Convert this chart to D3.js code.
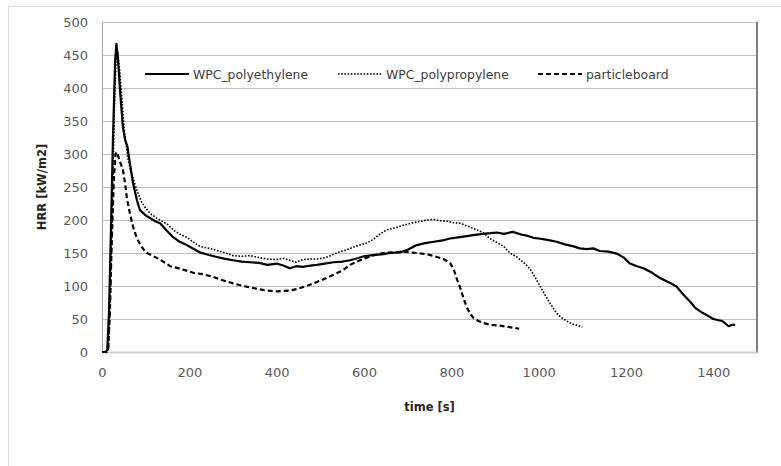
<!DOCTYPE html>
<html>
<head>
<meta charset="utf-8">
<script src="https://cdn.jsdelivr.net/npm/d3@7"></script>
<style>
  body { margin: 0; background: #fff; }
  svg { display: block; font-family: "DejaVu Sans", sans-serif; }
</style>
</head>
<body>
<script>
// data: time [s] and HRR [kW/m2]
const peTime = [0, 8, 12, 16, 20, 25, 30, 33, 37, 42, 48, 53, 58, 63, 71, 80, 87, 100, 110, 122, 133, 148, 163, 178, 194, 210, 224, 245, 263, 282, 300, 320, 339, 360, 378, 400, 415, 430, 445, 460, 478, 492, 510, 530, 550, 568, 585, 600, 621, 640, 660, 682, 700, 721, 740, 760, 780, 797, 820, 850, 872, 890, 904, 920, 941, 960, 975, 988, 1000, 1020, 1041, 1060, 1080, 1094, 1110, 1125, 1140, 1160, 1179, 1195, 1209, 1225, 1240, 1260, 1278, 1300, 1316, 1330, 1347, 1360, 1376, 1390, 1400, 1420, 1435, 1442, 1450];
const peHrr = [0, 0, 3, 60, 170, 320, 440, 467, 440, 390, 340, 321, 312, 290, 256, 230, 215, 207, 203, 198, 195, 184, 174, 167, 162, 156, 151, 147, 144, 141, 139, 137, 136, 135, 132, 134, 131, 127, 130, 129, 131, 132, 134, 136, 137, 139, 142, 145, 147, 148, 150, 151, 155, 162, 165, 167, 169, 172, 174, 177, 179, 180, 181, 179, 182, 178, 176, 173, 172, 170, 167, 163, 160, 157, 156, 157, 153, 152, 149, 143, 134, 130, 127, 120, 112, 105, 99, 88, 76, 66, 59, 54, 50, 47, 39, 41, 41];

const ppTime = [0, 10, 15, 19, 23, 28, 32, 36, 40, 46, 52, 60, 70, 80, 90, 100, 110, 125, 140, 149, 165, 180, 194, 210, 224, 245, 263, 282, 300, 320, 339, 360, 378, 400, 415, 430, 445, 460, 478, 492, 505, 520, 530, 545, 561, 580, 606, 620, 635, 652, 670, 690, 713, 730, 745, 759, 775, 790, 805, 820, 840, 855, 873, 888, 904, 920, 934, 950, 965, 980, 992, 1003, 1015, 1026, 1040, 1050, 1064, 1075, 1090, 1100];
const ppHrr = [0, 0, 5, 80, 200, 360, 440, 455, 430, 380, 330, 290, 265, 245, 228, 218, 210, 203, 197, 194, 184, 178, 174, 166, 160, 157, 154, 150, 146, 145, 146, 143, 141, 140, 142, 139, 136, 140, 141, 141, 142, 145, 148, 152, 155, 160, 165, 170, 178, 185, 188, 192, 196, 198, 200, 201, 199, 198, 196, 195, 190, 186, 181, 172, 166, 160, 150, 144, 136, 126, 113, 100, 86, 74, 60, 53, 47, 43, 40, 38];

const pbTime = [0, 10, 14, 18, 22, 27, 31, 34, 38, 43, 48, 53, 57, 64, 71, 80, 90, 100, 115, 130, 145, 156, 174, 190, 209, 230, 254, 270, 285, 300, 323, 346, 360, 378, 400, 430, 450, 476, 492, 510, 530, 552, 568, 584, 606, 625, 644, 667, 690, 705, 721, 745, 767, 782, 797, 805, 813, 820, 828, 836, 843, 850, 862, 873, 890, 911, 930, 950, 955];
const pbHrr = [0, 0, 3, 60, 160, 260, 300, 303, 295, 285, 276, 255, 233, 210, 190, 172, 160, 151, 146, 141, 135, 130, 127, 124, 120, 118, 114, 110, 107, 104, 100, 97, 95, 93, 92, 93, 96, 102, 106, 111, 117, 124, 132, 137, 143, 147, 150, 151, 152, 151, 150, 148, 144, 141, 135, 126, 110, 98, 81, 67, 58, 52, 47, 44, 41, 40, 38, 36, 35];

const seriesNames = ["WPC_polyethylene", "WPC_polypropylene", "particleboard"];
const xTicks = [0, 200, 400, 600, 800, 1000, 1200, 1400];
const yTicks = [0, 50, 100, 150, 200, 250, 300, 350, 400, 450, 500];

const w = 781, h = 466;
const padL = 102, padR = 757, padT = 22, padB = 352;

const x = d3.scaleLinear().domain([0, 1500]).range([padL, padR]);
const y = d3.scaleLinear().domain([0, 500]).range([padB, padT]);

const svg = d3.select("body").append("svg")
  .attr("width", w)
  .attr("height", h);

// outer chart frame (only top and left edges visible)
svg.append("path")
  .attr("d", "M8.5," + h + "V6.5H" + w)
  .attr("fill", "none")
  .attr("stroke", "#d9d9d9");

// gridlines
svg.append("g")
  .selectAll("line")
  .data(yTicks.filter(d => d > 0))
  .enter()
  .append("line")
  .attr("x1", padL).attr("x2", padR)
  .attr("y1", d => Math.round(y(d)) + 0.5)
  .attr("y2", d => Math.round(y(d)) + 0.5)
  .attr("stroke", "#bfbfbf");

// plot area border
svg.append("line")
  .attr("x1", padL + 0.5).attr("x2", padL + 0.5)
  .attr("y1", padT).attr("y2", padB)
  .attr("stroke", "#a6a6a6");
svg.append("line")
  .attr("x1", padR).attr("x2", padR)
  .attr("y1", padT).attr("y2", padB + 1)
  .attr("stroke", "#7f7f7f")
  .attr("stroke-width", 2);

// x axis
const xAxis = d3.axisBottom(x).tickValues(xTicks).tickFormat(d3.format("d"))
  .tickSize(0).tickPadding(16);
const gx = svg.append("g")
  .attr("transform", "translate(0," + padB + ")")
  .call(xAxis);
gx.select(".domain").attr("stroke", "#d0d0d0").attr("stroke-width", 2);
gx.selectAll("text").attr("font-size", 13).attr("fill", "#595959")
  .attr("font-family", "DejaVu Sans");

// y axis
const yAxis = d3.axisLeft(y).tickValues(yTicks).tickFormat(d3.format("d"))
  .tickSize(0).tickPadding(14);
const gy = svg.append("g")
  .attr("transform", "translate(" + padL + ",0)")
  .call(yAxis);
gy.select(".domain").remove();
gy.selectAll("text").attr("font-size", 13).attr("fill", "#595959")
  .attr("font-family", "DejaVu Sans");

// axis titles
svg.append("text")
  .attr("x", (padL + padR) / 2)
  .attr("y", 411)
  .attr("text-anchor", "middle")
  .attr("font-size", 11.5)
  .attr("font-weight", "bold")
  .attr("fill", "#262626")
  .text("time [s]");

svg.append("text")
  .attr("transform", "translate(46," + ((padT + padB) / 2) + ") rotate(-90)")
  .attr("text-anchor", "middle")
  .attr("font-size", 11.5)
  .attr("font-weight", "bold")
  .attr("fill", "#262626")
  .text("HRR [kW/m2]");

// lines
const styles = [
  { width: 2.2, dash: null },
  { width: 1.6, dash: "1.6,1.6" },
  { width: 2.2, dash: "5,3" }
];
const series = [
  peTime.map((t, i) => [t, peHrr[i]]),
  ppTime.map((t, i) => [t, ppHrr[i]]),
  pbTime.map((t, i) => [t, pbHrr[i]])
];

const line = d3.line()
  .x(d => x(d[0]))
  .y(d => y(d[1]));

svg.append("g")
  .selectAll("path")
  .data(series)
  .enter()
  .append("path")
  .attr("d", line)
  .attr("fill", "none")
  .attr("stroke", "#000")
  .attr("stroke-width", (d, i) => styles[i].width)
  .attr("stroke-dasharray", (d, i) => styles[i].dash)
  .attr("stroke-linejoin", "round");

// legend
const legendX = [145, 338, 538];
const lg = svg.append("g");
seriesNames.forEach((name, i) => {
  lg.append("line")
    .attr("x1", legendX[i]).attr("x2", legendX[i] + 44)
    .attr("y1", 74).attr("y2", 74)
    .attr("stroke", "#000")
    .attr("stroke-width", styles[i].width)
    .attr("stroke-dasharray", styles[i].dash);
  lg.append("text")
    .attr("x", legendX[i] + 48)
    .attr("y", 78.5)
    .attr("font-size", 12.4)
    .attr("fill", "#404040")
    .text(name);
});
</script>
</body>
</html>
